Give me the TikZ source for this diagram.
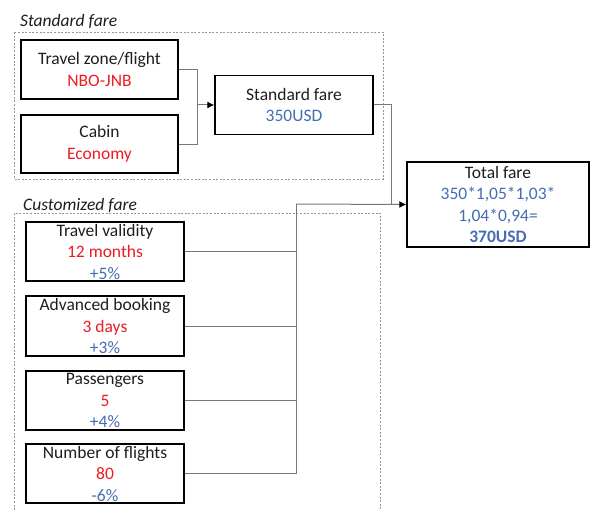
\documentclass[tikz,border=0pt]{standalone}
\usepackage{fontspec}
\setmainfont{Carlito}
\usetikzlibrary{arrows.meta}
\definecolor{txt}{RGB}{30,30,30}
\definecolor{fred}{RGB}{236,28,36}
\definecolor{fblue}{RGB}{68,109,180}
\definecolor{conn}{RGB}{120,120,120}
\definecolor{dash}{RGB}{150,150,150}
\tikzset{
  fbox/.style={draw=black, line width=1.4pt, inner sep=0pt, align=center,
    text=txt, font=\fontsize{17.5}{21.5}\selectfont},
  grp/.style={draw=dash, line width=0.9pt, dash pattern=on 2pt off 1.6pt},
  grplabel/.style={anchor=west, inner sep=0pt, text=txt, font=\fontsize{17.5}{20}\selectfont\itshape},
  wire/.style={draw=conn, line width=1pt},
  arr/.style={wire, -{Latex[length=7pt,width=7pt,color=black]}}
}
\begin{document}
\begin{tikzpicture}[x=1pt,y=-1pt]
\clip (0,0) rectangle (595,511);
\fill[white] (0,0) rectangle (595,511);
% group frames
\node[grplabel] (lstd) at (20,21) {Standard fare};
\draw[grp] (14,32) rectangle (383,179);
\node[grplabel] (lcus) at (23,205) {Customized fare};
\draw[grp] (14,213) rectangle (380,540);
% standard part
\node[fbox, minimum width=157pt, minimum height=59pt] (tz) at (99.5,69.5)
  {Travel zone/flight\\\textcolor{fred}{NBO-JNB}};
\node[fbox, minimum width=157pt, minimum height=58pt] (cab) at (99.5,144)
  {Cabin\\\textcolor{fred}{Economy}};
\node[fbox, minimum width=158pt, minimum height=59pt] (std) at (294,105)
  {Standard fare\\\textcolor{fblue}{350USD}};
\node[fbox, minimum width=182pt, minimum height=85pt] (tot) at (498,204.5)
  {Total fare\\\textcolor{fblue}{350*1,05*1,03*}\\\textcolor{fblue}{1,04*0,94=}\\\textcolor{fblue}{\bfseries 370USD}};
% customized part
\node[fbox, minimum width=158pt, minimum height=59pt] (tv) at (105,251.5)
  {Travel validity\\\textcolor{fred}{12 months}\\\textcolor{fblue}{+5\%}};
\node[fbox, minimum width=158pt, minimum height=60pt] (ab) at (105,326)
  {Advanced booking\\\textcolor{fred}{3 days}\\\textcolor{fblue}{+3\%}};
\node[fbox, minimum width=158pt, minimum height=59pt] (pa) at (105,400.5)
  {Passengers\\\textcolor{fred}{5}\\\textcolor{fblue}{+4\%}};
\node[fbox, minimum width=158pt, minimum height=59pt] (nf) at (105,473.5)
  {Number of flights\\\textcolor{fred}{80}\\\textcolor{fblue}{-6\%}};
% junctions
\coordinate (j1) at (197,105);
\coordinate (j2) at (391,204);
\coordinate (j3) at (296,204);
% connectors
\draw[wire] (tz.east) -| (j1);
\draw[wire] (cab.east) -| (j1);
\draw[arr] (j1) -- (std.west);
\draw[wire] (std.east) -| (j2);
\draw[wire] (tv.east) -| (j3);
\draw[wire] (ab.east) -- (ab.east -| j3);
\draw[wire] (pa.east) -- (pa.east -| j3);
\draw[wire] (nf.east) -| (j3);
\draw[arr] (j3) -- (tot.west);
\end{tikzpicture}
\end{document}
